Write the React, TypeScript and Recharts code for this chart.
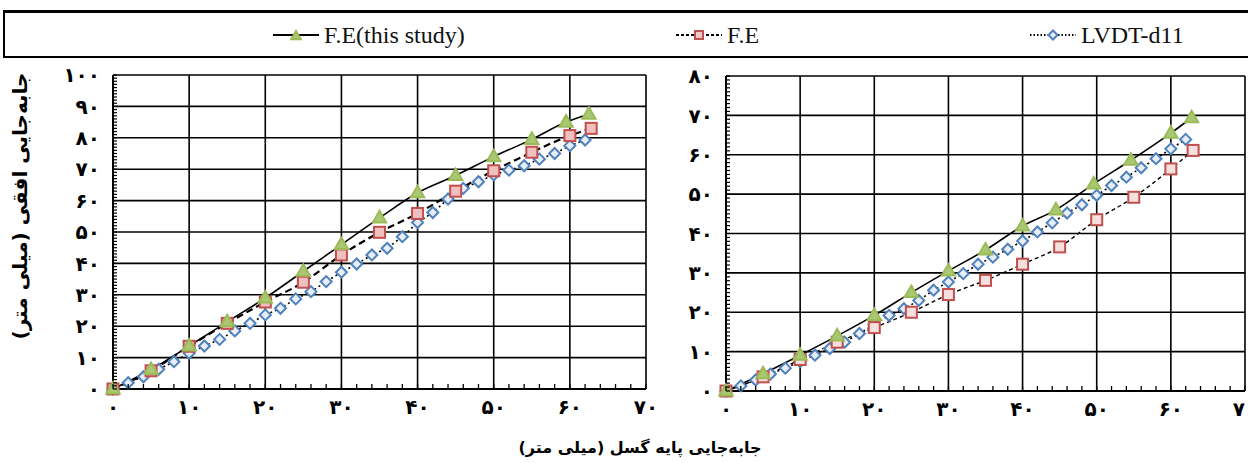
import React from "react";
import { CartesianGrid, Line, LineChart, XAxis, YAxis } from "recharts";

// left panel
const leftThisStudyX = [0, 5, 10, 15, 20, 25, 30, 35, 40, 45, 50, 55, 59.5, 62.5];
const leftThisStudyY = [0, 6.2, 13.7, 21.4, 29, 37.5, 46, 54.5, 62.5, 68, 74, 79.5, 85, 87.5];
const leftFeX = [0, 5, 10, 15, 20, 25, 30, 35, 40, 45, 50, 55, 60, 62.8];
const leftFeY = [0, 5.8, 13.6, 20.9, 27.7, 34, 42.7, 49.9, 55.9, 63, 69.5, 75.4, 80.7, 83];
const lvdtX = [0, 2, 4, 6, 8, 10, 12, 14, 16, 18, 20, 22, 24, 26, 28, 30, 32, 34, 36, 38, 40, 42, 44, 46, 48, 50, 52, 54, 56, 58, 60, 62];
const leftLvdtY = [0, 2, 3.9, 6.3, 8.7, 11.4, 13.7, 15.8, 18.5, 20.9, 23.6, 25.7, 28.7, 31, 34.2, 37.2, 39.8, 42.7, 44.8, 48.5, 53, 56.2, 60.5, 63.9, 66, 68.2, 69.7, 71.1, 73.2, 75, 77.5, 79.3];

// right panel
const rightThisStudyX = [0, 5, 10, 15, 20, 25, 30, 35, 40, 44.5, 49.6, 54.6, 60, 62.8];
const rightThisStudyY = [0, 4.4, 9.1, 14, 19.2, 25, 30.5, 35.8, 41.9, 46, 52.6, 58.6, 65.5, 69.4];
const rightFeX = [0, 5, 10, 15, 20, 25, 30, 35, 40, 45, 50, 55, 60, 63];
const rightFeY = [0, 3.6, 8, 12.4, 16.1, 20, 24.5, 28.1, 32.2, 36.6, 43.5, 49.2, 56.4, 61.1];
const rightLvdtY = [0, 1.3, 2.8, 4.3, 5.8, 7.5, 9.1, 10.8, 12.4, 14.6, 16.9, 19.2, 20.9, 23, 25.6, 27.7, 29.8, 32.2, 34, 36, 38.1, 40.4, 42.7, 45.2, 47.3, 49.7, 52.2, 54.3, 56.7, 59, 61.5, 63.9];

const xTicks = [0, 10, 20, 30, 40, 50, 60, 70];
const leftYTicks = [0, 10, 20, 30, 40, 50, 60, 70, 80, 90, 100];
const rightYTicks = [0, 10, 20, 30, 40, 50, 60, 70, 80];

const SERIES_NAMES = ["F.E(this study)", "F.E", "LVDT-d11"];
const X_LABEL = "جابه‌جایی پایه گسل (میلی متر)";
const Y_LABEL = "جابه‌جایی افقی (میلی متر)";

const GREEN = "#9bbb59";
const RED = "#c0504d";
const BLUE = "#4f81bd";

const toPairs = (xs: number[], ys: number[]) => xs.map((x, i) => ({ x, y: ys[i] }));
const faDigits = (v: number | string) =>
  String(v).replace(/[0-9]/g, (d) => "۰۱۲۳۴۵۶۷۸۹"[Number(d)]);
// minor tick positions (every `step` units)
const minorTicks = (max: number, step: number) =>
  Array.from({ length: Math.floor(max / step) + 1 }, (_, i) => i * step);

const TICK_MARGIN = 14;
const tickText = { fontSize: 20, fontWeight: 700, fill: "#000", fontFamily: "DejaVu Sans" };

function YTick({ x, y, payload }: any) {
  const axisX = x + TICK_MARGIN;
  const v = payload.value;
  return (
    <g>
      <line x1={axisX} x2={axisX + 4} y1={y} y2={y} stroke="#000" strokeWidth={1.2} />
      {v % 10 === 0 && (
        <text x={x + 1} y={y} dy="0.36em" textAnchor="end" {...tickText}>
          {faDigits(v)}
        </text>
      )}
    </g>
  );
}

function XTick({ x, y, payload }: any) {
  const axisY = y - 8;
  const v = payload.value;
  return (
    <g>
      <line x1={x} x2={x} y1={axisY} y2={axisY - 5} stroke="#000" strokeWidth={1.3} />
      {v % 10 === 0 && (
        <text x={x} y={y + 17} textAnchor="middle" {...tickText}>
          {faDigits(v)}
        </text>
      )}
    </g>
  );
}

function Triangle({ cx, cy, s = 7 }: { cx: number; cy: number; s?: number }) {
  return (
    <polygon
      points={`${cx},${cy - s} ${cx + s * 0.95},${cy + s * 0.65} ${cx - s * 0.95},${cy + s * 0.65}`}
      fill="#aac873"
      stroke={GREEN}
      strokeWidth={2}
    />
  );
}

function Square({ cx, cy, s = 5.5, fill = "#efc7c6" }: { cx: number; cy: number; s?: number; fill?: string }) {
  return <rect x={cx - s} y={cy - s} width={s * 2} height={s * 2} fill={fill} stroke={RED} strokeWidth={2} />;
}

function Diamond({ cx, cy, s = 5.5 }: { cx: number; cy: number; s?: number }) {
  return (
    <polygon
      points={`${cx},${cy - s} ${cx + s},${cy} ${cx},${cy + s} ${cx - s},${cy}`}
      fill="#e8eef7"
      stroke={BLUE}
      strokeWidth={2}
    />
  );
}

function Panel({
  width,
  height,
  margin,
  yMax,
  yTicks,
  thisStudy,
  fe,
  lvdt,
  feDash,
  feWidth,
  squareFill,
}: {
  width: number;
  height: number;
  margin: { top: number; right: number; bottom: number; left: number };
  yMax: number;
  yTicks: number[];
  thisStudy: { x: number; y: number }[];
  fe: { x: number; y: number }[];
  lvdt: { x: number; y: number }[];
  feDash: string;
  feWidth: number;
  squareFill: string;
}) {
  return (
    <LineChart width={width} height={height} margin={margin}>
      <CartesianGrid stroke="#000" strokeWidth={1.6} horizontalValues={yTicks} verticalValues={xTicks} />
      <XAxis
        type="number"
        dataKey="x"
        domain={[0, 70]}
        ticks={minorTicks(70, 2)}
        interval={0}
        tick={<XTick />}
        tickLine={false}
        tickSize={0}
        tickMargin={8}
        axisLine={{ stroke: "#000", strokeWidth: 2 }}
        height={40}
      />
      <YAxis
        type="number"
        dataKey="y"
        domain={[0, yMax]}
        ticks={minorTicks(yMax, 1)}
        interval={0}
        tick={<YTick />}
        tickLine={false}
        tickSize={0}
        tickMargin={TICK_MARGIN}
        axisLine={{ stroke: "#000", strokeWidth: 2 }}
        width={50}
      />
      <Line
        data={lvdt}
        dataKey="y"
        type="linear"
        stroke="#000"
        strokeWidth={1.6}
        strokeDasharray="2 3"
        dot={(p: any) => <Diamond key={`d${p.index}`} cx={p.cx} cy={p.cy} />}
        activeDot={false}
        isAnimationActive={false}
      />
      <Line
        data={fe}
        dataKey="y"
        type="monotone"
        stroke="#000"
        strokeWidth={feWidth}
        strokeDasharray={feDash}
        dot={(p: any) => <Square key={`s${p.index}`} cx={p.cx} cy={p.cy} fill={squareFill} />}
        activeDot={false}
        isAnimationActive={false}
      />
      <Line
        data={thisStudy}
        dataKey="y"
        type="monotone"
        stroke="#000"
        strokeWidth={1.6}
        dot={(p: any) => <Triangle key={`t${p.index}`} cx={p.cx} cy={p.cy} />}
        activeDot={false}
        isAnimationActive={false}
      />
    </LineChart>
  );
}

function LegendItem({ left, kind, label }: { left: number; kind: number; label: string }) {
  return (
    <div style={{ position: "absolute", left, top: 0, height: 44, display: "flex", alignItems: "center" }}>
      <svg width={48} height={16} style={{ marginRight: 3 }}>
        {kind === 0 && <line x1={0} y1={8} x2={46} y2={8} stroke="#000" strokeWidth={2} />}
        {kind === 1 && <line x1={0} y1={8} x2={46} y2={8} stroke="#000" strokeWidth={2} strokeDasharray="3 2" />}
        {kind === 2 && <line x1={0} y1={8} x2={46} y2={8} stroke="#000" strokeWidth={2} strokeDasharray="1.5 2" />}
        {kind === 0 && <Triangle cx={23} cy={9} s={5} />}
        {kind === 1 && <Square cx={23} cy={8} s={4} />}
        {kind === 2 && <Diamond cx={23} cy={8} s={4.5} />}
      </svg>
      <span style={{ fontFamily: "Liberation Serif", fontSize: 24, color: "#111" }}>{label}</span>
    </div>
  );
}

export default function App() {
  const leftThis = toPairs(leftThisStudyX, leftThisStudyY);
  const leftFe = toPairs(leftFeX, leftFeY);
  const leftLvdt = toPairs(lvdtX, leftLvdtY);
  const rightThis = toPairs(rightThisStudyX, rightThisStudyY);
  const rightFe = toPairs(rightFeX, rightFeY);
  const rightLvdt = toPairs(lvdtX, rightLvdtY);

  return (
    <div style={{ position: "fixed", left: 0, top: 0, width: 1248, height: 463, background: "#fff", overflow: "hidden" }}>
      <div
        style={{
          position: "absolute",
          left: 3,
          top: 10,
          width: 1244,
          height: 43,
          borderTop: "3px solid #000",
          borderBottom: "2px solid #000",
          borderLeft: "2px solid #000",
          borderRight: "2px solid #000",
        }}
      >
        <LegendItem left={268} kind={0} label={SERIES_NAMES[0]} />
        <LegendItem left={671} kind={1} label={SERIES_NAMES[1]} />
        <LegendItem left={1025} kind={2} label={SERIES_NAMES[2]} />
      </div>

      <div style={{ position: "absolute", left: 0, top: 0 }}>
        <Panel
          width={660}
          height={463}
          margin={{ top: 75, right: 14, bottom: 34, left: 63 }}
          yMax={100}
          yTicks={leftYTicks}
          thisStudy={leftThis}
          fe={leftFe}
          lvdt={leftLvdt}
          feDash="7 4"
          feWidth={2.2}
          squareFill="#efc0bf"
        />
      </div>
      <div style={{ position: "absolute", left: 660, top: 0 }}>
        <Panel
          width={600}
          height={463}
          margin={{ top: 76, right: 15, bottom: 32, left: 16 }}
          yMax={80}
          yTicks={rightYTicks}
          thisStudy={rightThis}
          fe={rightFe}
          lvdt={rightLvdt}
          feDash="4 3"
          feWidth={1.4}
          squareFill="#f5dfdf"
        />
      </div>

      <div
        style={{
          position: "absolute",
          left: 20,
          top: 206,
          transform: "translate(-50%, -50%) rotate(-90deg)",
          whiteSpace: "nowrap",
          direction: "rtl",
          fontFamily: "DejaVu Sans",
          fontWeight: 700,
          fontSize: 20,
          color: "#000",
        }}
      >
        {Y_LABEL}
      </div>
      <div
        style={{
          position: "absolute",
          left: 640,
          top: 447,
          transform: "translate(-50%, -50%)",
          whiteSpace: "nowrap",
          direction: "rtl",
          fontFamily: "DejaVu Sans",
          fontWeight: 700,
          fontSize: 16,
          color: "#000",
        }}
      >
        {X_LABEL}
      </div>
    </div>
  );
}
